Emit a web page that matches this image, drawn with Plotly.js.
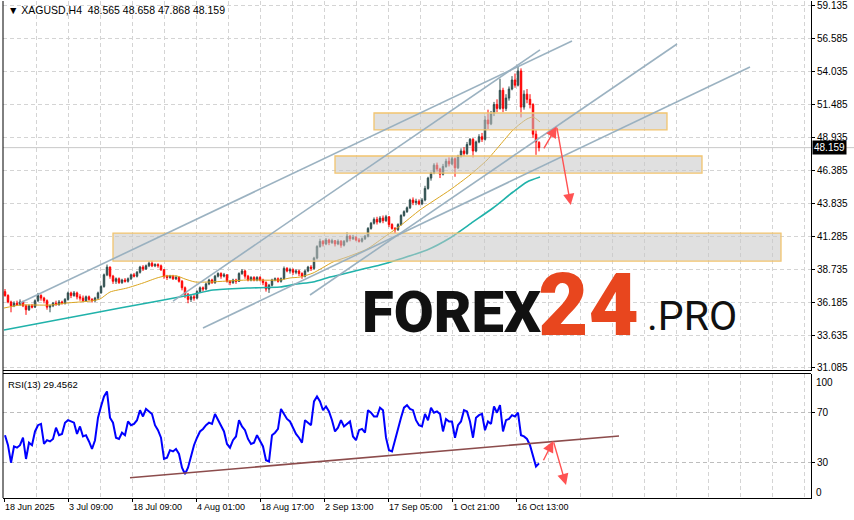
<!DOCTYPE html>
<html><head><meta charset="utf-8">
<script src="https://cdn.plot.ly/plotly-3.0.1.min.js"></script>
<style>html,body{margin:0;padding:0;background:#fff;}#chart{width:854px;height:520px;}</style>
</head><body><div id="chart"></div>
<script>
const symbolTitle = "XAGUSD,H4\u00a0\u00a048.565 48.658 47.868 48.159";
const rsiTitle = "RSI(13) 29.4562";
const lastPrice = 48.159;

const open = [37.0,36.7,36.2,35.9,36.1,36.0,36.2,35.9,35.6,35.9,
35.8,36.3,36.7,36.5,36.3,35.8,35.9,36.1,36.0,36.2,
36.1,36.4,36.9,36.7,36.9,36.6,36.5,36.3,36.6,36.4,
36.3,36.5,36.9,37.4,38.3,38.9,38.2,37.8,38.0,37.7,
37.9,37.8,38.0,38.3,38.2,38.5,38.9,38.75,39.0,39.2,
39.0,39.1,39.0,38.7,38.2,38.1,38.2,38.0,38.1,37.8,
37.3,36.8,36.4,36.6,36.5,37.0,37.3,37.2,37.6,37.9,
37.7,38.2,38.4,38.2,38.3,37.8,37.7,37.9,37.8,38.4,
38.6,38.2,37.9,38.1,37.9,38.1,37.9,37.7,37.2,37.5,
37.9,38.0,37.8,38.0,38.8,38.6,38.7,38.5,38.6,38.4,
38.2,38.6,38.9,38.8,39.6,40.5,40.9,40.7,41.0,40.8,
40.95,40.7,40.9,40.6,40.9,41.3,41.1,41.2,41.0,40.9,
41.1,41.3,41.9,42.3,42.6,42.4,42.7,42.5,42.8,42.2,
41.9,41.8,42.2,42.9,43.2,43.5,44.1,43.9,44.0,43.8,
44.1,45.0,45.8,46.2,46.8,46.5,46.1,46.7,47.1,46.9,
47.3,46.6,47.5,47.9,47.7,48.4,48.8,47.9,48.6,49.0,
48.8,50.3,50.0,50.8,51.5,51.2,52.6,51.2,52.0,52.7,
53.4,53.0,54.1,51.3,52.3,51.9,51.5,49.2,48.565];
const high = [37.2,36.8,36.3,36.25,36.3,36.4,36.3,36.0,36.0,36.05,
36.4,36.9,36.8,36.6,36.4,36.0,36.2,36.3,36.35,36.3,
36.5,37.0,37.0,37.05,37.0,36.8,36.7,36.7,36.7,36.5,
36.6,37.0,37.5,38.4,39.1,38.95,38.3,38.1,38.1,38.0,
38.05,38.1,38.4,38.45,38.6,39.0,39.05,39.1,39.35,39.4,
39.2,39.2,39.1,38.75,38.3,38.3,38.3,38.25,38.2,37.9,
37.4,36.9,36.8,36.8,37.1,37.4,37.4,37.7,38.0,38.0,
38.3,38.5,38.5,38.45,38.35,37.9,38.0,38.0,38.5,38.75,
38.7,38.3,38.2,38.2,38.2,38.2,38.0,37.8,37.6,38.0,
38.1,38.1,38.1,38.95,38.9,38.85,38.8,38.75,38.7,38.5,
38.7,39.0,39.05,39.7,40.6,41.1,41.0,41.15,41.1,41.1,
41.0,41.05,41.0,41.0,41.6,41.4,41.4,41.3,41.15,41.2,
41.4,42.0,42.4,42.75,42.8,42.85,42.9,42.95,42.85,42.3,
42.0,42.3,43.0,43.3,43.6,44.2,44.3,44.2,44.15,44.25,
45.2,45.9,46.3,46.95,47.0,46.6,46.9,47.3,47.4,47.5,
47.4,47.6,48.1,48.2,48.6,48.9,48.9,48.7,49.2,49.3,
50.6,51.1,51.0,51.7,51.9,53.5,52.8,52.3,52.9,53.7,
53.9,54.45,54.3,52.6,52.7,52.3,51.6,49.5,48.658];
const low = [36.6,36.1,35.4,35.8,35.9,35.9,35.8,35.2,35.5,35.7,
35.75,36.2,36.3,36.1,35.6,35.4,35.8,35.9,35.9,36.0,
36.0,36.3,36.5,36.6,36.4,36.3,36.2,36.2,36.3,36.15,
36.2,36.4,36.85,37.3,38.2,38.0,37.6,37.6,37.6,37.6,
37.7,37.7,37.9,38.1,38.1,38.4,38.6,38.7,38.9,38.9,
38.9,38.85,38.6,38.0,37.9,38.0,37.9,37.9,37.7,37.1,
36.5,36.1,36.2,36.3,36.4,36.9,37.0,37.1,37.5,37.6,
37.6,38.1,38.0,38.1,37.7,37.5,37.6,37.6,37.75,38.3,
38.0,37.8,37.8,37.8,37.8,37.8,37.5,37.0,36.9,37.4,
37.8,37.7,37.7,37.95,38.5,38.4,38.3,38.35,38.2,38.0,
38.1,38.5,38.6,38.7,39.5,40.4,40.5,40.6,40.6,40.7,
40.5,40.6,40.4,40.5,40.8,40.9,41.0,40.9,40.8,40.8,
41.0,41.2,41.8,42.2,42.2,42.3,42.3,42.4,42.0,41.8,
41.55,41.7,42.1,42.8,43.1,43.4,43.7,43.7,43.7,43.7,
44.0,44.9,45.6,46.1,46.3,45.8,46.0,46.6,46.7,46.8,
45.9,46.5,47.4,47.5,47.6,48.3,47.4,47.8,48.5,48.6,
48.7,49.6,49.9,50.6,50.9,51.1,50.9,51.0,51.8,52.6,
52.8,52.9,50.5,51.1,51.6,51.2,48.9,47.6,47.868];
const close = [36.7,36.2,35.9,36.1,36.0,36.2,35.9,35.6,35.9,35.8,
36.3,36.7,36.5,36.3,35.8,35.9,36.1,36.0,36.2,36.1,
36.4,36.9,36.7,36.9,36.6,36.5,36.3,36.6,36.4,36.3,
36.5,36.9,37.4,38.3,38.9,38.2,37.8,38.0,37.7,37.9,
37.8,38.0,38.3,38.2,38.5,38.9,38.75,39.0,39.2,39.0,
39.1,39.0,38.7,38.2,38.1,38.2,38.0,38.1,37.8,37.3,
36.8,36.4,36.6,36.5,37.0,37.3,37.2,37.6,37.9,37.7,
38.2,38.4,38.2,38.3,37.8,37.7,37.9,37.8,38.4,38.6,
38.2,37.9,38.1,37.9,38.1,37.9,37.7,37.2,37.5,37.9,
38.0,37.8,38.0,38.8,38.6,38.7,38.5,38.6,38.4,38.2,
38.6,38.9,38.8,39.6,40.5,40.9,40.7,41.0,40.8,40.95,
40.7,40.9,40.6,40.9,41.3,41.1,41.2,41.0,40.9,41.1,
41.3,41.9,42.3,42.6,42.4,42.7,42.5,42.8,42.2,41.9,
41.8,42.2,42.9,43.2,43.5,44.1,43.9,44.0,43.8,44.1,
45.0,45.8,46.2,46.8,46.5,46.1,46.7,47.1,46.9,47.3,
46.6,47.5,47.9,47.7,48.4,48.8,47.9,48.6,49.0,48.8,
50.3,50.0,50.8,51.5,51.2,52.6,51.2,52.0,52.7,53.4,
53.0,54.1,51.3,52.3,51.9,51.5,49.2,48.6,48.159];
const rsi = [52,44,30,43,42,44,50,33,46,44,
55,60,61,45,48,47,49,58,52,53,
62,64,63,62,53,59,51,52,47,41,
48,66,75,83,87,66,62,50,49,54,
52,63,60,61,64,72,67,73,71,69,
60,56,50,33,34,40,39,41,37,26,
21,26,35,44,50,55,57,60,62,61,
69,64,60,55,45,42,48,51,64,59,
56,49,45,46,52,48,43,32,31,52,
54,57,73,69,65,63,58,53,50,46,
64,62,60,79,83,79,72,75,71,64,
55,58,64,59,61,63,51,48,56,57,
54,72,70,67,67,74,72,50,40,39,
48,58,66,74,76,73,72,64,60,59,
69,64,74,70,71,69,55,65,63,63,
50,60,63,72,71,63,50,66,68,69,
56,63,61,75,70,76,55,64,65,68,
67,70,52,51,49,44,36,27,29.46];

const maFastBar = [0,16,46,63,86,96,106,123,139,153,161,173,181,191,206,243,276,286,296,309,329,343,363,379,396,416,446,466,483,496,509,516,523,529,536];
const maFast = [35.73,35.96,35.96,36.12,36.27,36.43,36.97,37.28,37.67,38.06,38.21,38.21,37.98,37.75,37.75,37.90,37.90,38.06,38.13,38.44,39.30,39.68,40.30,41.16,42.09,43.33,44.88,46.04,47.20,48.36,49.53,49.99,50.38,50.53,50.15];
const maSlowBar = [0,58,116,186,209,243,276,293,309,326,343,359,376,396,423,446,469,489,509,523,536];
const maSlow = [34.03,34.88,35.73,36.74,37.13,37.28,37.36,37.59,37.75,38.13,38.44,38.75,39.06,39.53,40.23,41.16,42.40,43.48,44.72,45.50,45.88];

const priceTicks = [31.085,33.635,36.185,38.735,41.285,43.835,46.385,48.935,51.485,54.035,56.585,59.135];
const timeLabels = ['18 Jun 2025','3 Jul 09:00','18 Jul 09:00','4 Aug 01:00','18 Aug 17:00','2 Sep 13:00','17 Sep 05:00','1 Oct 21:00','16 Oct 13:00'];
const timeLabelBars = [0,64,128,192,256,320,384,448,512];

// analyst drawings (bar index / price)
const zoneBar0 = [370,331,109], zoneBar1 = [663,698,777];
const zoneTop = [50.84,47.51,41.54], zoneBottom = [49.53,46.19,39.37];
const lineBar0 = [16,169,199,306], lineBar1 = [568,536,746,673];
const linePrice0 = [36.12,36.27,34.18,36.74], linePrice1 = [56.42,55.73,54.41,56.19];
const rsiLineBar = [126,615], rsiLineVal = [18.0,51.4];
const arrowMainBar = [539,552.7,566.7], arrowMainPrice = [47.98,49.80,43.71];
const arrowRsiBar = [538.7,549.3,562], arrowRsiVal = [30.8,47.4,12.2];

const bar = close.map((_, i) => 1 + 3 * i);

const GRID = '#d4d4d4';
const traces = [
  {type:'candlestick', x:bar, open:open, high:high, low:low, close:close, xaxis:'x', yaxis:'y',
   increasing:{line:{color:'#2F4F4F', width:1}, fillcolor:'#2F4F4F'},
   decreasing:{line:{color:'#FF0000', width:1}, fillcolor:'#FF0000'},
   whiskerwidth:0, hoverinfo:'skip'},
  {type:'scatter', mode:'lines', x:maSlowBar, y:maSlow, xaxis:'x', yaxis:'y',
   line:{color:'#20B2AA', width:1.6, shape:'spline', smoothing:0.6}, hoverinfo:'skip'},
  {type:'scatter', mode:'lines', x:maFastBar, y:maFast, xaxis:'x', yaxis:'y',
   line:{color:'#DAA520', width:1, shape:'spline', smoothing:0.6}, hoverinfo:'skip'},
  {type:'scatter', mode:'lines', x:bar, y:rsi, xaxis:'x', yaxis:'y2',
   line:{color:'#0000FF', width:2}, hoverinfo:'skip'}
];

const shapes = [];
shapes.push({type:'line', xref:'paper', yref:'y', x0:0, x1:1.06, y0:lastPrice, y1:lastPrice, line:{color:'#c8c8c8', width:1}, layer:'below'});
for (let k = 0; k < zoneBar0.length; k++) {
  shapes.push({type:'rect', xref:'x', yref:'y', x0:zoneBar0[k], x1:zoneBar1[k], y0:zoneBottom[k], y1:zoneTop[k],
    fillcolor:'rgba(198,198,198,0.55)', line:{color:'#F2C46E', width:1.3}, layer:'above'});
}
for (let k = 0; k < lineBar0.length; k++) {
  shapes.push({type:'line', xref:'x', yref:'y', x0:lineBar0[k], x1:lineBar1[k], y0:linePrice0[k], y1:linePrice1[k],
    line:{color:'rgba(150,174,190,0.95)', width:1.6}, layer:'above'});
}
shapes.push({type:'line', xref:'x', yref:'y2', x0:rsiLineBar[0], x1:rsiLineBar[1], y0:rsiLineVal[0], y1:rsiLineVal[1],
  line:{color:'#8c4c4c', width:1.6}, layer:'above'});
const pY = p => (498 - p) / 497;
shapes.push({type:'line', xref:'paper', yref:'paper', x0:0, x1:0, y0:0, y1:1, line:{color:'#000', width:1}});
shapes.push({type:'line', xref:'paper', yref:'paper', x0:0, x1:1, y0:pY(370.5), y1:pY(370.5), line:{color:'#000', width:1}});
shapes.push({type:'line', xref:'paper', yref:'paper', x0:0, x1:1, y0:pY(373.5), y1:pY(373.5), line:{color:'#000', width:1}});
shapes.push({type:'rect', xref:'paper', yref:'paper', x0:1.003, x1:1.06, y0:pY(378), y1:pY(371), fillcolor:'#fff', line:{width:0}, layer:'above'});

const ann = [];
ann.push({xref:'paper', yref:'paper', x:0.004, y:pY(10), xanchor:'left', yanchor:'middle', showarrow:false,
  text:'\u25BC ' + symbolTitle, font:{size:10.5, color:'#000'}});
ann.push({xref:'paper', yref:'paper', x:0.004, y:pY(384), xanchor:'left', yanchor:'middle', showarrow:false,
  text:rsiTitle, font:{size:9.5, color:'#000'}});
ann.push({xref:'paper', yref:'y', x:1, y:lastPrice, xanchor:'left', yanchor:'middle', showarrow:false, xshift:1,
  text:lastPrice.toFixed(3), bgcolor:'#000', font:{size:10, color:'#fff'}, borderpad:1});
ann.push({xref:'paper', yref:'paper', x:1, y:pY(382), xanchor:'left', yanchor:'middle', showarrow:false, xshift:3,
  text:'100', font:{size:10, color:'#000'}});
ann.push({xref:'paper', yref:'paper', x:1, y:pY(492.7), xanchor:'left', yanchor:'middle', showarrow:false, xshift:3,
  text:'0', font:{size:10, color:'#000'}});
const ARROW = '#FF5252';
for (let k = 0; k < 2; k++) {
  ann.push({xref:'x', yref:'y', axref:'x', ayref:'y', x:arrowMainBar[k+1], y:arrowMainPrice[k+1], ax:arrowMainBar[k], ay:arrowMainPrice[k],
    showarrow:true, text:'', arrowhead:2, arrowsize:1.6, arrowwidth:1.4, arrowcolor:ARROW, standoff:0, startstandoff:0});
  ann.push({xref:'x', yref:'y2', axref:'x', ayref:'y2', x:arrowRsiBar[k+1], y:arrowRsiVal[k+1], ax:arrowRsiBar[k], ay:arrowRsiVal[k],
    showarrow:true, text:'', arrowhead:2, arrowsize:1.6, arrowwidth:1.4, arrowcolor:ARROW, standoff:0, startstandoff:0});
}
const pX = p => (p - 3) / 808;
ann.push({xref:'paper', yref:'paper', x:pX(360), y:pY(312), xanchor:'left', yanchor:'middle', showarrow:false,
  text:'FOREX', font:{family:'Roboto', size:58, weight:900, color:'#111'}});
ann.push({xref:'paper', yref:'paper', x:pX(536), y:pY(305), xanchor:'left', yanchor:'middle', showarrow:false,
  text:'24', font:{family:'Roboto', size:87, weight:900, color:'#E8461E'}});
ann.push({xref:'paper', yref:'paper', x:pX(645), y:pY(316), xanchor:'left', yanchor:'middle', showarrow:false,
  text:'.PRO', font:{family:'Roboto', size:41, weight:400, color:'#111'}});

const layout = {
  width:854, height:520, margin:{l:3, r:43, t:1, b:22},
  paper_bgcolor:'#fff', plot_bgcolor:'#fff', showlegend:false,
  font:{family:'Liberation Sans, Arial, sans-serif', size:10, color:'#000'},
  boxgap:0.3,
  xaxis:{range:[-1,807], anchor:'y2', tickmode:'array', tickvals:timeLabelBars, ticktext:timeLabels,
    ticks:'outside', ticklen:3, tickcolor:'#000', ticklabelposition:'outside right', tickfont:{size:9},
    showgrid:true, gridcolor:GRID, griddash:'4px,3px', gridwidth:1,
    minor:{tickmode:'linear', tick0:0, dtick:32, showgrid:true, gridcolor:GRID, griddash:'4px,3px', ticks:''},
    showline:true, linecolor:'#000', linewidth:1, zeroline:false, rangeslider:{visible:false}, fixedrange:true},
  yaxis:{domain:[pY(370.5),1], range:[30.89,59.52], anchor:'x', side:'right', tickmode:'array', tickvals:priceTicks,
    ticktext:priceTicks.map(v => v.toFixed(3)), ticks:'outside', ticklen:3, tickcolor:'#000',
    showgrid:true, gridcolor:GRID, griddash:'4px,3px', showline:true, linecolor:'#000', zeroline:false, fixedrange:true},
  yaxis2:{domain:[0,pY(373.5)], range:[1.76,101.36], anchor:'x', side:'right', tickmode:'array', tickvals:[70,30],
    ticktext:['70','30'], ticks:'outside', ticklen:3, tickcolor:'#000',
    showgrid:true, gridcolor:'#bdbdbd', griddash:'4px,3px', showline:true, linecolor:'#000', zeroline:false, fixedrange:true},
  shapes:shapes, annotations:ann
};
Plotly.newPlot('chart', traces, layout, {displayModeBar:false, staticPlot:true});
</script></body></html>
